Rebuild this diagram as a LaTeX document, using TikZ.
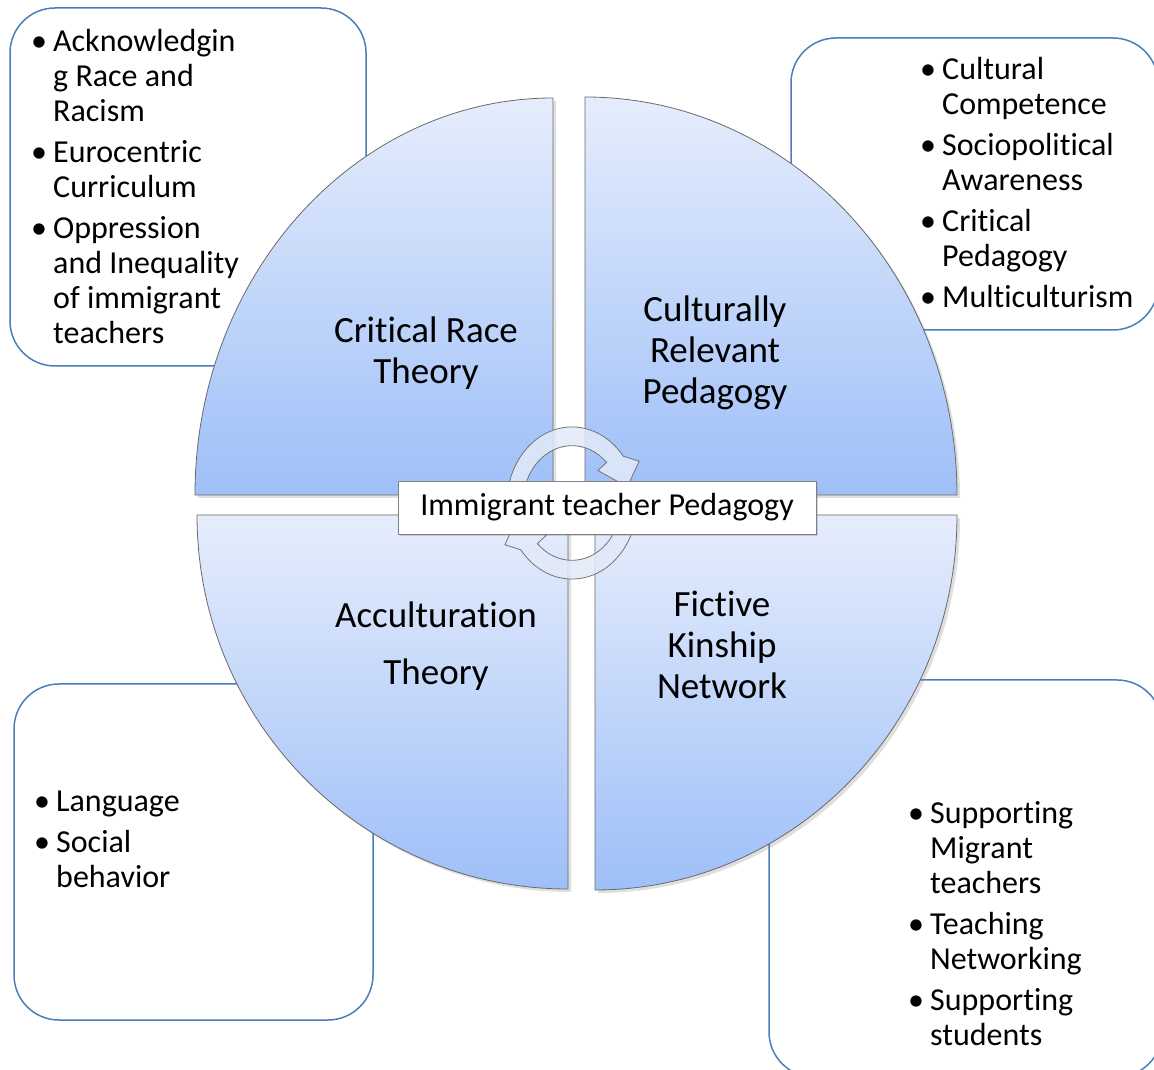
\documentclass[tikz,border=0pt]{standalone}
\usepackage{fontspec}
\setmainfont{Carlito}[Ligatures=NoCommon]
\usetikzlibrary{shadows}

\definecolor{boxblue}{RGB}{74,126,187}
\definecolor{quartop}{RGB}{230,237,252}
\definecolor{quarbot}{RGB}{158,191,248}
\definecolor{quarline}{RGB}{105,105,105}
\definecolor{ringfill}{RGB}{226,234,248}

\newcommand{\bul}{\makebox[22pt][l]{\textbullet}}
\newcommand{\ind}{\hspace*{22pt}}

\begin{document}
\begin{tikzpicture}[x=1pt,y=1pt,
  listbox/.style={draw=boxblue, line width=1.5pt, rounded corners=45pt, fill=white},
  quarter/.style={draw=quarline, line width=0.8pt, top color=quartop, bottom color=quarbot,
    drop shadow={shadow xshift=3pt, shadow yshift=-3pt, opacity=0.25}},
  quartext/.style={align=center, font=\fontsize{37}{41}\selectfont, inner sep=0pt},
  listtext/.style={align=left, font=\fontsize{32}{35}\selectfont, inner sep=0pt, anchor=base west},
  ring/.style={draw=gray!90!black, line width=0.8pt, fill=ringfill, fill opacity=0.85},
]
\useasboundingbox (0,0) rectangle (1154,1069);

% les cadres des listes
\draw[listbox] (10,703) rectangle (366,1061);
\draw[listbox] (791,739) rectangle (1158,1031);
\draw[listbox] (14,49) rectangle (373,385);
\draw[listbox] (769,-8) rectangle (1162,389);

% (base = ligne du bas)
\node[listtext] (lcrt) at (31,725) {\bul Acknowledgin\\\ind g Race and\\\ind Racism\\[6pt]\bul Eurocentric\\\ind Curriculum\\[6pt]\bul Oppression\\\ind and Inequality\\\ind of immigrant\\\ind teachers};
\node[listtext] (lcrp) at (920,761) {\bul Cultural\\\ind Competence\\[6pt]\bul Sociopolitical\\\ind Awareness\\[6pt]\bul Critical\\\ind Pedagogy\\[6pt]\bul Multiculturism};
\node[listtext] (lact) at (34,182) {\bul Language\\[6pt]\bul Social\\\ind behavior};
\node[listtext] (lfkn) at (908,24) {\bul Supporting\\\ind Migrant\\\ind teachers\\[6pt]\bul Teaching\\\ind Networking\\[6pt]\bul Supporting\\\ind students};

% les quatre quarts
\draw[quarter] (553,574) -- (195,574) arc[start angle=180, end angle=90, x radius=358, y radius=397] -- cycle;
\draw[quarter] (585,574) -- (585,972) arc[start angle=90, end angle=0, x radius=372, y radius=398] -- cycle;
\draw[quarter] (568,554) -- (568,180) arc[start angle=-90, end angle=-180, x radius=371, y radius=374] -- cycle;
\draw[quarter] (595,554) -- (957,554) arc[start angle=0, end angle=-90, x radius=362, y radius=375] -- cycle;

\node[quartext] (crt) at (426,716) {Critical Race\\Theory};
\node[quartext] (crp) at (715,716) {Culturally\\Relevant\\Pedagogy};
\node[quartext] (act) at (436,423) {Acculturation\\[16pt]Theory};
\node[quartext] (fkn) at (722,424) {Fictive\\Kinship\\Network};

% les fleches circulaires
\begin{scope}[shift={(572,566)}, yscale=1.17]
  \draw[ring] (180:65) arc[start angle=180, end angle=38, radius=65] -- (28:76) -- (14:57)
    -- (47:38) -- (45:49) arc[start angle=45, end angle=180, radius=49] -- cycle;
  \draw[ring] (0:65) arc[start angle=0, end angle=-142, radius=65] -- (-152:76) -- (-166:57)
    -- (-133:38) -- (-135:49) arc[start angle=-135, end angle=0, radius=49] -- cycle;
\end{scope}

\node[draw=gray, fill=white, drop shadow={shadow xshift=2pt, shadow yshift=-2pt, opacity=0.3},
  minimum width=418pt, minimum height=53pt, inner sep=0pt, font=\fontsize{32}{35}\selectfont]
  (itp) at (607,561.5) {Immigrant teacher Pedagogy};
\end{tikzpicture}
\end{document}
